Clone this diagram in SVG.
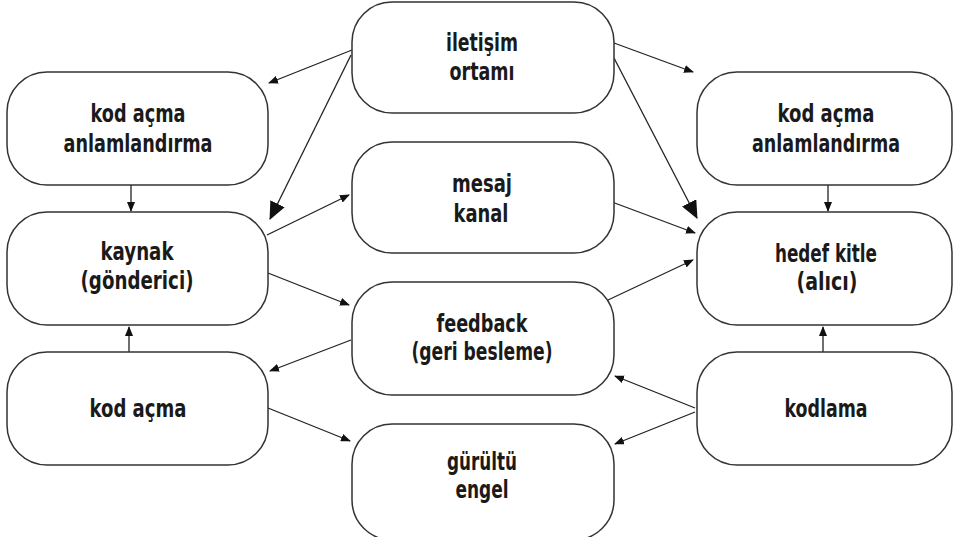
<svg xmlns="http://www.w3.org/2000/svg" width="953" height="537" viewBox="0 0 953 537">
<defs>
<style>
.box{fill:#fff;stroke:#333;stroke-width:1.5}
.t{font-family:"DejaVu Sans Condensed","DejaVu Sans",sans-serif;font-weight:bold;font-size:25px;fill:#1a1a1a;text-anchor:middle}
.c{stroke:#222;stroke-width:1.3;fill:none}
.s{marker-end:url(#sm)}
.b{marker-end:url(#bg)}
</style>
<marker id="sm" markerUnits="userSpaceOnUse" markerWidth="10" markerHeight="8" refX="9" refY="4" orient="auto">
<path d="M0,0 L10,4 L0,8 z" fill="#111"/>
</marker>
<marker id="bg" markerUnits="userSpaceOnUse" markerWidth="18" markerHeight="16" refX="17" refY="8" orient="auto">
<path d="M0,0 L18,8 L0,16 z" fill="#111"/>
</marker>
</defs>
<rect width="953" height="537" fill="#fff"/>
<g id="connectors">
<line class="c s" x1="352" y1="50" x2="269" y2="83"/>
<line class="c b" x1="351" y1="55" x2="270" y2="219"/>
<line class="c s" x1="614" y1="43" x2="693" y2="72"/>
<line class="c b" x1="614" y1="58" x2="697" y2="218"/>
<line class="c s" x1="131" y1="185" x2="131" y2="211"/>
<line class="c s" x1="828" y1="185" x2="828" y2="211"/>
<line class="c s" x1="267" y1="235" x2="349" y2="195"/>
<line class="c s" x1="268" y1="273" x2="349" y2="305"/>
<line class="c s" x1="612" y1="202" x2="695" y2="233"/>
<line class="c s" x1="608" y1="300" x2="693" y2="260"/>
<line class="c s" x1="351" y1="340" x2="270" y2="371"/>
<line class="c s" x1="268" y1="408" x2="350" y2="441"/>
<line class="c s" x1="695" y1="408" x2="615" y2="376"/>
<line class="c s" x1="695" y1="412" x2="615" y2="444"/>
<line class="c s" x1="129" y1="353" x2="129" y2="327"/>
<line class="c s" x1="823" y1="353" x2="823" y2="327"/>
</g>
<g id="n-iletisim"><rect class="box" x="352" y="2" width="262" height="111" rx="40"/>
<text class="t" x="482" y="51" textLength="72" lengthAdjust="spacingAndGlyphs">iletişim</text>
<text class="t" x="482" y="80" textLength="65" lengthAdjust="spacingAndGlyphs">ortamı</text></g>
<g id="n-kodacma-l"><rect class="box" x="7" y="72" width="261" height="113" rx="40"/>
<text class="t" x="138" y="122" textLength="95" lengthAdjust="spacingAndGlyphs">kod açma</text>
<text class="t" x="138" y="152" textLength="149" lengthAdjust="spacingAndGlyphs">anlamlandırma</text></g>
<g id="n-kodacma-r"><rect class="box" x="697" y="72" width="255" height="113" rx="40"/>
<text class="t" x="826" y="122" textLength="97" lengthAdjust="spacingAndGlyphs">kod açma</text>
<text class="t" x="826" y="152" textLength="148" lengthAdjust="spacingAndGlyphs">anlamlandırma</text></g>
<g id="n-kaynak"><rect class="box" x="7" y="212" width="261" height="113" rx="40"/>
<text class="t" x="137" y="260" textLength="73" lengthAdjust="spacingAndGlyphs">kaynak</text>
<text class="t" x="137" y="289" textLength="113" lengthAdjust="spacingAndGlyphs">(gönderici)</text></g>
<g id="n-mesaj"><rect class="box" x="352" y="142" width="262" height="111" rx="40"/>
<text class="t" x="482" y="192" textLength="60" lengthAdjust="spacingAndGlyphs">mesaj</text>
<text class="t" x="481" y="222" textLength="55" lengthAdjust="spacingAndGlyphs">kanal</text></g>
<g id="n-hedef"><rect class="box" x="697" y="212" width="255" height="113" rx="40"/>
<text class="t" x="826" y="262" textLength="102" lengthAdjust="spacingAndGlyphs">hedef kitle</text>
<text class="t" x="827" y="290" textLength="61" lengthAdjust="spacingAndGlyphs">(alıcı)</text></g>
<g id="n-feedback"><rect class="box" x="352" y="282" width="262" height="113" rx="40"/>
<text class="t" x="482" y="332" textLength="91" lengthAdjust="spacingAndGlyphs">feedback</text>
<text class="t" x="482" y="360" textLength="141" lengthAdjust="spacingAndGlyphs">(geri besleme)</text></g>
<g id="n-kodacma"><rect class="box" x="7" y="352" width="261" height="113" rx="40"/>
<text class="t" x="138" y="417" textLength="97" lengthAdjust="spacingAndGlyphs">kod açma</text></g>
<g id="n-kodlama"><rect class="box" x="697" y="352" width="255" height="113" rx="40"/>
<text class="t" x="826" y="417" textLength="83" lengthAdjust="spacingAndGlyphs">kodlama</text></g>
<g id="n-gurultu"><rect class="box" x="352" y="424" width="262" height="116" rx="40"/>
<text class="t" x="482" y="470" textLength="70" lengthAdjust="spacingAndGlyphs">gürültü</text>
<text class="t" x="482" y="498" textLength="53" lengthAdjust="spacingAndGlyphs">engel</text></g>
</svg>
